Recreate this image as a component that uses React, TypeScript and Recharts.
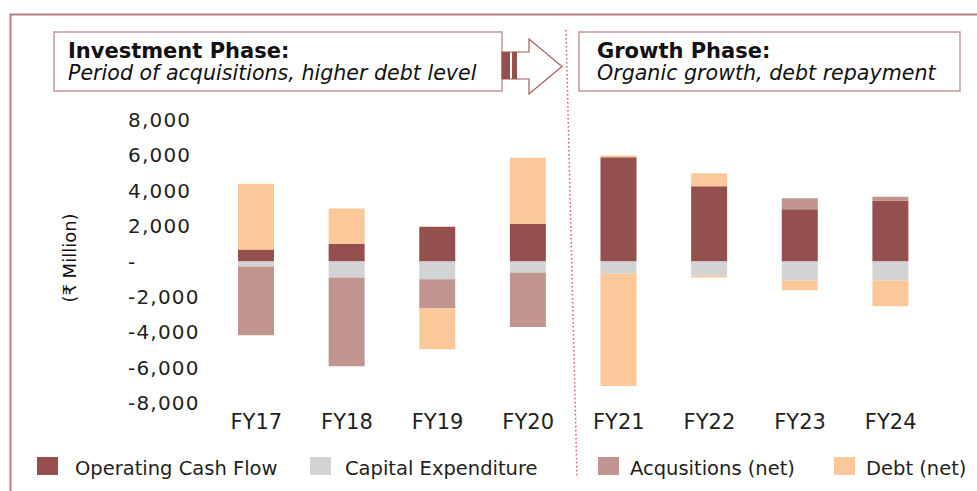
import React from 'react';
import {BarChart, Bar, XAxis, YAxis} from 'recharts';

const categories = ['FY17', 'FY18', 'FY19', 'FY20', 'FY21', 'FY22', 'FY23', 'FY24'];
const operatingCashFlow = [680, 1010, 1970, 2140, 5890, 4250, 2960, 3440];
const capitalExpenditure = [-280, -900, -1010, -620, -680, -800, -1070, -1070];
const acquisitionsNet = [-3890, -5020, -1640, -3080, 0, 0, 620, 220];
const debtRaised = [3710, 1980, 0, 3720, 110, 740, 0, 0];
const debtRepaid = [0, 0, -2310, 0, -6360, -110, -560, -1460];
const yTicks = [8000, 6000, 4000, 2000, 0, -2000, -4000, -6000, -8000];

const legendNames = ['Operating Cash Flow', 'Capital Expenditure', 'Acqusitions (net)', 'Debt (net)'];
const legendColors = ['#954F4C', '#D2D3D5', '#C1958F', '#FBC899'];
const legendX = [37, 310, 598, 834];
const legendTextX = [75, 345, 630, 866];

const data = categories.map((year, i) => ({
    year,
    ocf: operatingCashFlow[i],
    capex: capitalExpenditure[i],
    acq: acquisitionsNet[i],
    debtUp: debtRaised[i],
    debtDown: debtRepaid[i],
}));

const fmt = (v: number) => (v === 0 ? '-' : v.toLocaleString('en-US'));

const YTick = (props: any) => {
    const {y, payload} = props;
    return (
        <text x={128} y={y + 7} textAnchor="start" fill="#231F20"
              style={{fontFamily: 'DejaVu Sans', fontSize: 20, letterSpacing: 1.2}}>
            {fmt(payload.value)}
        </text>
    );
};

const XTick = (props: any) => {
    const {x, payload} = props;
    return (
        <text x={x} y={429} textAnchor="middle" fill="#231F20"
              style={{fontFamily: 'DejaVu Sans', fontSize: 21}}>
            {payload.value}
        </text>
    );
};

const App = () => {
    return (
        <div style={{position: 'absolute', left: 0, top: 0, width: 977, height: 491, background: '#fff'}}>
            <BarChart width={977} height={491} data={data} stackOffset="sign"
                      margin={{top: 120, right: 41, bottom: 58, left: 0}}>
                <XAxis dataKey="year" axisLine={false} tickLine={false} height={30} interval={0} tick={XTick}/>
                <YAxis type="number" domain={[-8000, 8000]} ticks={yTicks} width={211}
                       axisLine={false} tickLine={false} tick={YTick}/>
                <Bar dataKey="ocf" stackId="a" fill={legendColors[0]} barSize={36} isAnimationActive={false}/>
                <Bar dataKey="capex" stackId="a" fill={legendColors[1]} barSize={36} isAnimationActive={false}/>
                <Bar dataKey="acq" stackId="a" fill={legendColors[2]} barSize={36} isAnimationActive={false}/>
                <Bar dataKey="debtUp" stackId="a" fill={legendColors[3]} barSize={36} isAnimationActive={false}/>
                <Bar dataKey="debtDown" stackId="a" fill={legendColors[3]} barSize={36} isAnimationActive={false}/>
            </BarChart>
            <svg width={977} height={491} style={{position: 'absolute', left: 0, top: 0, pointerEvents: 'none'}}>
                {/* frame */}
                <polyline points="10.5,491 10.5,14.5 977,14.5" fill="none" stroke="#B97B7B" strokeWidth={2}/>
                {/* phase boxes */}
                <rect x={54} y={32} width={448} height={59} fill="#fff" stroke="#C39898" strokeWidth={1.5}/>
                <rect x={579} y={32} width={381} height={59} fill="#fff" stroke="#C39898" strokeWidth={1.5}/>
                <polygon points="502,52 529,52 529,39 562,66.5 529,94 529,79 502,79" fill="#fff"
                         stroke="#A65A57" strokeWidth={1.2}/>
                <rect x={502} y={52} width={8} height={27} fill="#954F4C"/>
                <rect x={512} y={52} width={5} height={27} fill="#954F4C"/>
                <line x1={566} y1={30} x2={577} y2={478} stroke="#E8545A" strokeWidth={1.5} strokeDasharray="1.5 2.5"/>
                <g style={{fontFamily: 'DejaVu Sans'}} fill="#111">
                    <text x={68} y={58} fontSize={21} fontWeight="bold">Investment Phase:</text>
                    <text x={68} y={80} fontSize={20.6} fontStyle="italic">Period of acquisitions, higher debt level</text>
                    <text x={597} y={58} fontSize={21} fontWeight="bold">Growth Phase:</text>
                    <text x={597} y={80} fontSize={20.6} fontStyle="italic">Organic growth, debt repayment</text>
                    <text x={76} y={258} fontSize={18} textAnchor="middle" transform="rotate(-90 76 258)">(₹ Million)</text>
                </g>
                {/* legend */}
                {legendNames.map((name, i) => (
                    <g key={name}>
                        <rect x={legendX[i]} y={457} width={21} height={18} fill={legendColors[i]}/>
                        <text x={legendTextX[i]} y={475} fontSize={19.5} fill="#231F20"
                              style={{fontFamily: 'DejaVu Sans'}}>{name}</text>
                    </g>
                ))}
            </svg>
        </div>
    );
};

export default App;
